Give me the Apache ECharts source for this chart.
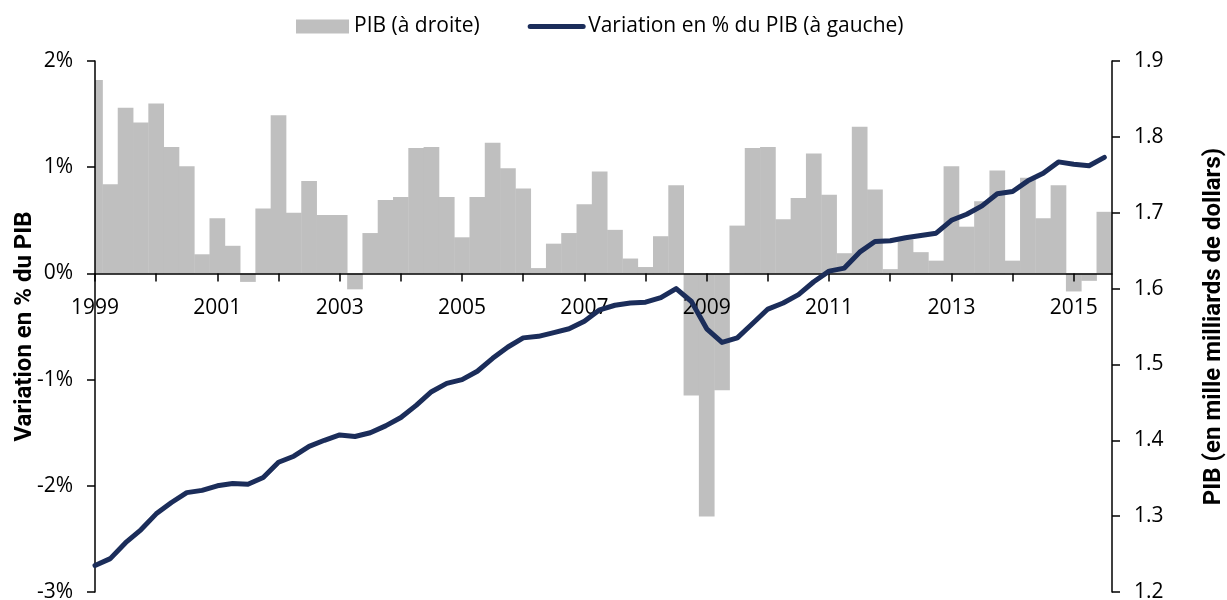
<!DOCTYPE html>
<html>
<head>
<meta charset="UTF-8">
<title>PIB trimestriel</title>
<script src="https://cdn.jsdelivr.net/npm/echarts@6/dist/echarts.min.js"></script>
<style>
  html, body { margin: 0; padding: 0; background: #fff; }
  #chart { width: 1227px; height: 600px; }
</style>
</head>
<body>
<div id="chart"></div>
<script>
// trimestres 1999T1 - 2015T3
var firstYear = 1999;
var nbQuarters = 67;

// variation trimestrielle du PIB, en %
var variation = [
  1.82, 0.84, 1.56, 1.42,
  1.60, 1.19, 1.01, 0.18,
  0.52, 0.26, -0.08, 0.61,
  1.49, 0.57, 0.87, 0.55,
  0.55, -0.15, 0.38, 0.69,
  0.72, 1.18, 1.19, 0.72,
  0.34, 0.72, 1.23, 0.99,
  0.80, 0.05, 0.28, 0.38,
  0.65, 0.96, 0.41, 0.14,
  0.06, 0.35, 0.83, -1.15,
  -2.29, -1.10, 0.45, 1.18,
  1.19, 0.51, 0.71, 1.13,
  0.74, 0.19, 1.38, 0.79,
  0.04, 0.32, 0.20, 0.12,
  1.01, 0.44, 0.68, 0.97,
  0.12, 0.90, 0.52, 0.83,
  -0.17, -0.07, 0.58
];

// niveau du PIB, en mille milliards de dollars
var pib = [
  1.235, 1.244, 1.265, 1.282,
  1.303, 1.318, 1.331, 1.334,
  1.340, 1.343, 1.342, 1.351,
  1.371, 1.379, 1.392, 1.400,
  1.407, 1.405, 1.410, 1.419,
  1.430, 1.446, 1.464, 1.475,
  1.480, 1.491, 1.508, 1.523,
  1.535, 1.537, 1.542, 1.547,
  1.557, 1.572, 1.578, 1.581,
  1.582, 1.588, 1.600, 1.583,
  1.547, 1.529, 1.535, 1.554,
  1.573, 1.581, 1.592, 1.609,
  1.623, 1.627, 1.648, 1.662,
  1.663, 1.667, 1.670, 1.673,
  1.690, 1.698, 1.709, 1.725,
  1.728, 1.742, 1.752, 1.767,
  1.764, 1.762, 1.773
];

var leftTicks = { min: -3, max: 2, interval: 1 };
var rightTicks = { min: 1.2, max: 1.9, interval: 0.1 };

// position de chaque trimestre en annees decimales
var quarters = [];
for (var i = 0; i < nbQuarters; i++) {
  quarters.push(firstYear + i / 4);
}

var barData = quarters.map(function (q, i) { return [q, variation[i]]; });
var lineData = quarters.map(function (q, i) { return [q, pib[i]]; });

var font = 'Open Sans';
var nameFont = 'Roboto';
var navy = '#1b2d5a';
var grey = '#bfbfbf';

var gridTop = 61, gridBottom = 8, chartH = 600;
var plotH = chartH - gridTop - gridBottom;
// l'axe des x passe par 0 % de l'axe de gauche
var xOffset = -plotH * (0 - leftTicks.min) / (leftTicks.max - leftTicks.min);

var myChart = echarts.init(document.getElementById('chart'));
var option = {
  animation: false,
  textStyle: { fontFamily: font },
  legend: {
    top: 11,
    left: 291,
    itemWidth: 53,
    itemHeight: 14,
    itemGap: 48,
    textStyle: { fontFamily: font, fontSize: 21, color: '#000' },
    data: [
      { name: 'PIB (à droite)', icon: 'rect', itemStyle: { color: grey } },
      { name: 'Variation en % du PIB (à gauche)', itemStyle: { opacity: 0 }, lineStyle: { width: 5, cap: 'round' } }
    ]
  },
  grid: { left: 95, right: 115, top: gridTop, bottom: gridBottom, outerBoundsMode: 'none', containLabel: false },
  xAxis: {
    type: 'value',
    z: 3,
    min: firstYear,
    max: firstYear + (nbQuarters - 0.5) / 4,
    interval: 1,
    offset: xOffset,
    splitLine: { show: false },
    axisLine: { show: true, onZero: false, lineStyle: { color: '#000', width: 1.5 } },
    axisTick: { show: true, inside: false, length: 8, lineStyle: { color: '#000', width: 1.5 } },
    axisLabel: {
      margin: 24,
      fontSize: 21,
      color: '#000',
      showMaxLabel: false,
      formatter: function (v) {
        if (Math.abs(v - Math.round(v)) > 1e-6) return '';
        return Math.round(v) % 2 === 1 ? String(Math.round(v)) : '';
      }
    }
  },
  yAxis: [
    {
      type: 'value',
      z: 3,
      position: 'left',
      min: leftTicks.min,
      max: leftTicks.max,
      interval: leftTicks.interval,
      name: 'Variation en % du PIB',
      nameLocation: 'middle',
      nameGap: 58,
      nameMoveOverlap: false,
      nameTextStyle: { fontFamily: nameFont, fontSize: 24, fontWeight: 'bold', color: '#000' },
      splitLine: { show: false },
      axisLine: { show: true, onZero: false, lineStyle: { color: '#000', width: 1.5 } },
      axisTick: { show: true, length: 8, lineStyle: { color: '#000', width: 1.5 } },
      axisLabel: { margin: 22, fontSize: 21, color: '#000', formatter: '{value}%' }
    },
    {
      type: 'value',
      z: 3,
      position: 'right',
      min: rightTicks.min,
      max: rightTicks.max,
      interval: rightTicks.interval,
      name: 'PIB (en mille milliards de dollars)',
      nameLocation: 'middle',
      nameGap: 90,
      nameMoveOverlap: false,
      nameTextStyle: { fontFamily: nameFont, fontSize: 24, fontWeight: 'bold', color: '#000' },
      splitLine: { show: false },
      axisLine: { show: true, onZero: false, lineStyle: { color: '#000', width: 1.5 } },
      axisTick: { show: true, length: 8, lineStyle: { color: '#000', width: 1.5 } },
      axisLabel: {
        margin: 22, fontSize: 21, color: '#000',
        formatter: function (v) { return v.toFixed(1); }
      }
    }
  ],
  series: [
    {
      name: 'PIB (à droite)',
      type: 'custom',
      z: 2,
      yAxisIndex: 0,
      itemStyle: { color: grey },
      encode: { x: 0, y: 1 },
      renderItem: function (params, api) {
        var q = api.value(0);
        var v = api.value(1);
        var p0 = api.coord([q, 0]);
        var p1 = api.coord([q, v]);
        var w = api.size([0.25, 0])[0] + 0.4;
        var cs = params.coordSys;
        var rect = echarts.graphic.clipRectByRect(
          { x: p0[0] - w / 2, y: Math.min(p0[1], p1[1]), width: w, height: Math.abs(p1[1] - p0[1]) },
          { x: cs.x, y: cs.y, width: cs.width, height: cs.height }
        );
        if (!rect) return;
        return { type: 'rect', shape: rect, style: { fill: grey } };
      },
      data: barData
    },
    {
      name: 'Variation en % du PIB (à gauche)',
      type: 'line',
      yAxisIndex: 1,
      symbol: 'none',
      z: 5,
      lineStyle: { color: navy, width: 5, cap: 'round', join: 'round' },
      itemStyle: { color: navy },
      data: lineData
    }
  ]
};
myChart.setOption(option);
</script>
</body>
</html>
